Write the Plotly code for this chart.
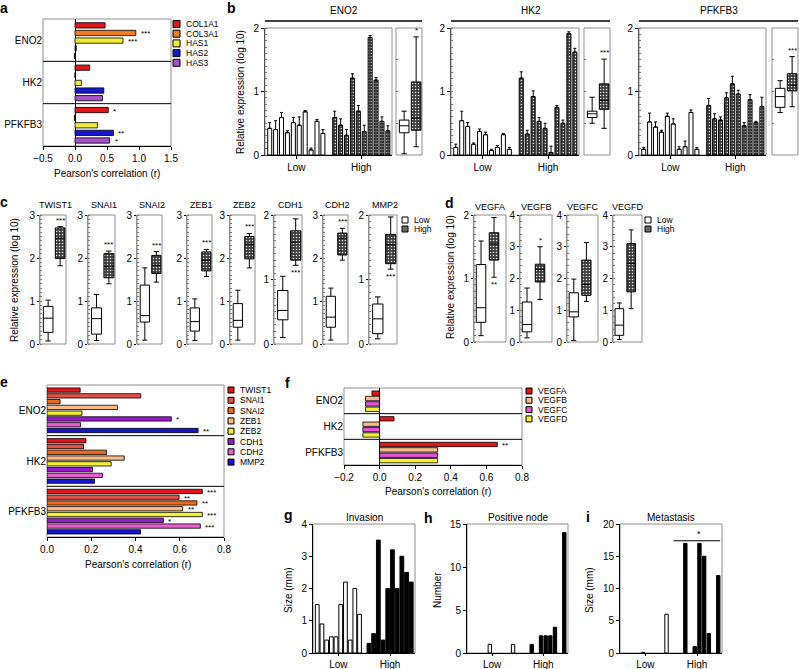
import numpy as np
import plotly.graph_objects as go

W, H = 799, 669
FONT = "Liberation Sans"
GRAY = "#8f8f8f"

# ---------------- panel a data ----------------
a_groups = ["ENO2", "HK2", "PFKFB3"]
a_series = ["COL1A1", "COL3A1", "HAS1", "HAS2", "HAS3"]
a_colors = ["#e3151c", "#ef7d1f", "#f3ec35", "#1717cf", "#a551c8"]
a_COL1A1 = [0.47, 0.23, 0.52]
a_COL3A1 = [0.95, 0.00, -0.01]
a_HAS1 = [0.75, 0.10, 0.35]
a_HAS2 = [0.02, 0.45, 0.60]
a_HAS3 = [-0.01, 0.43, 0.54]
a_sig_COL1A1 = ["", "", "*"]
a_sig_COL3A1 = ["***", "", ""]
a_sig_HAS1 = ["***", "", ""]
a_sig_HAS2 = ["", "", "**"]
a_sig_HAS3 = ["", "", "*"]

# ---------------- panel b data ----------------
b_genes = ["ENO2", "HK2", "PFKFB3"]
b_ENO2_low = [0.42, 0.40, 0.59, 0.35, 0.51, 0.47, 0.68, 0.08, 0.53, 0.34]
b_ENO2_low_err = [0.09, 0.14, 0.08, 0.03, 0.08, 0.13, 0.02, 0.03, 0.03, 0.06]
b_ENO2_high = [0.59, 0.47, 0.31, 1.21, 0.69, 0.37, 1.85, 1.18, 0.53, 0.38]
b_ENO2_high_err = [0.10, 0.10, 0.09, 0.07, 0.09, 0.10, 0.03, 0.04, 0.07, 0.08]
b_HK2_low = [0.12, 0.54, 0.45, 0.17, 0.37, 0.32, 0.07, 0.12, 0.32, 0.09]
b_HK2_low_err = [0.05, 0.15, 0.06, 0.02, 0.04, 0.04, 0.02, 0.03, 0.02, 0.03]
b_HK2_high = [1.21, 0.33, 0.92, 0.53, 0.42, 0.04, 0.75, 0.50, 1.91, 1.62]
b_HK2_high_err = [0.10, 0.06, 0.09, 0.06, 0.08, 0.10, 0.03, 0.05, 0.03, 0.06]
b_PFKFB3_low = [0.09, 0.52, 0.44, 0.36, 0.61, 0.49, 0.09, 0.13, 0.67, 0.09]
b_PFKFB3_low_err = [0.03, 0.14, 0.08, 0.03, 0.05, 0.08, 0.04, 0.09, 0.04, 0.03]
b_PFKFB3_high = [0.78, 0.57, 0.55, 0.90, 1.12, 0.96, 0.46, 0.87, 0.51, 0.76]
b_PFKFB3_high_err = [0.11, 0.08, 0.05, 0.08, 0.12, 0.06, 0.05, 0.08, 0.02, 0.15]
# box summaries: min, q1, median, q3, max
b_ENO2_box_low = [0.02, 0.35, 0.46, 0.55, 0.69]
b_ENO2_box_high = [0.13, 0.39, 0.58, 1.15, 1.86]
b_HK2_box_low = [0.50, 0.59, 0.65, 0.69, 0.91]
b_HK2_box_high = [0.42, 0.72, 0.86, 1.12, 1.51]
b_PFKFB3_box_low = [0.67, 0.75, 0.92, 1.05, 1.17]
b_PFKFB3_box_high = [0.76, 1.01, 1.10, 1.28, 1.55]
b_sig = ["*", "***", "***"]

# ---------------- panel c data ----------------
c_genes = ["TWIST1", "SNAI1", "SNAI2", "ZEB1", "ZEB2", "CDH1", "CDH2", "MMP2"]
c_ymax = [3, 3, 3, 3, 3, 2, 3, 2]
c_low_min = [0.07, 0.08, 0.09, 0.08, 0.09, 0.10, 0.09, 0.08]
c_low_q1 = [0.27, 0.23, 0.51, 0.30, 0.39, 0.375, 0.39, 0.16]
c_low_med = [0.60, 0.59, 0.66, 0.52, 0.55, 0.52, 0.625, 0.39]
c_low_q3 = [0.875, 0.84, 1.37, 0.84, 0.94, 0.83, 1.11, 0.62]
c_low_max = [1.02, 1.15, 1.77, 1.05, 1.25, 1.05, 1.30, 0.73]
c_high_min = [1.82, 1.40, 1.44, 1.57, 1.77, 1.22, 1.95, 1.16]
c_high_q1 = [1.99, 1.54, 1.64, 1.70, 1.98, 1.30, 2.07, 1.245]
c_high_med = [2.46, 1.80, 1.83, 1.95, 2.32, 1.58, 2.46, 1.54]
c_high_q3 = [2.70, 2.10, 2.06, 2.14, 2.50, 1.755, 2.58, 1.70]
c_high_max = [2.73, 2.16, 2.15, 2.20, 2.57, 1.94, 2.69, 1.97]
c_sig = ["***"] * 8
c_sig_above = [True, True, True, True, True, False, True, False]

# ---------------- panel d data ----------------
d_genes = ["VEGFA", "VEGFB", "VEGFC", "VEGFD"]
d_ymax = [2, 4, 4, 4]
d_low_min = [0.10, 0.13, 0.05, 0.08]
d_low_q1 = [0.31, 0.32, 0.79, 0.21]
d_low_med = [0.54, 0.55, 0.95, 0.53]
d_low_q3 = [1.22, 1.26, 1.55, 1.05]
d_low_max = [1.59, 1.70, 1.98, 1.23]
d_high_min = [1.02, 1.34, 1.28, 1.05]
d_high_q1 = [1.29, 1.89, 1.47, 1.58]
d_high_med = [1.545, 2.29, 1.81, 2.47]
d_high_q3 = [1.72, 2.45, 2.58, 3.10]
d_high_max = [1.96, 3.00, 3.13, 3.53]
d_sig = ["**", "*", "", ""]
d_sig_above = [False, True, True, True]

# ---------------- panel e data ----------------
e_groups = ["ENO2", "HK2", "PFKFB3"]
e_series = ["TWIST1", "SNAI1", "SNAI2", "ZEB1", "ZEB2", "CDH1", "CDH2", "MMP2"]
e_colors = ["#e3151c", "#e55048", "#ec6a1c", "#f7bb8b", "#f3ef33", "#9a19cf", "#ea5fcf", "#1616cf"]
e_TWIST1 = [0.150, 0.176, 0.702]
e_SNAI1 = [0.424, 0.165, 0.597]
e_SNAI2 = [0.059, 0.269, 0.678]
e_ZEB1 = [0.319, 0.349, 0.613]
e_ZEB2 = [0.158, 0.290, 0.702]
e_CDH1 = [0.562, 0.206, 0.526]
e_CDH2 = [0.152, 0.250, 0.693]
e_MMP2 = [0.683, 0.215, 0.423]
e_sig_TWIST1 = ["", "", "***"]
e_sig_SNAI1 = ["", "", "**"]
e_sig_SNAI2 = ["", "", "**"]
e_sig_ZEB1 = ["", "", "**"]
e_sig_ZEB2 = ["", "", "***"]
e_sig_CDH1 = ["*", "", "*"]
e_sig_CDH2 = ["", "", "***"]
e_sig_MMP2 = ["**", "", ""]

# ---------------- panel f data ----------------
f_groups = ["ENO2", "HK2", "PFKFB3"]
f_series = ["VEGFA", "VEGFB", "VEGFC", "VEGFD"]
f_colors = ["#e3151c", "#f7bb8b", "#e651d6", "#f3ef33"]
f_VEGFA = [-0.043, 0.081, 0.661]
f_VEGFB = [-0.079, -0.094, 0.326]
f_VEGFC = [-0.079, -0.094, 0.326]
f_VEGFD = [-0.079, -0.094, 0.326]
f_sig_VEGFA = ["", "", "**"]
f_sig_other = ["", "", ""]

# ---------------- panels g, h, i data ----------------
g_low = [1.5, 0.9, 0.4, 0.5, 0.5, 1.5, 2.2, 0.4, 2.0, 1.2]
g_high = [0.3, 0.6, 3.5, 0.4, 2.0, 3.2, 2.0, 3.0, 2.5, 2.2]
h_low = [0, 0, 0, 0, 1, 0, 0, 0, 0, 1]
h_high = [0, 0, 1, 0, 2, 2, 2, 3, 0, 14]
i_low = [0, 0, 0, 0, 0.1, 0, 0, 0, 0, 6]
i_high = [0, 0, 17, 0, 1, 17, 15, 3, 0, 12]
group_labels = ["Low", "High"]

# ================= figure machinery =================
fig = go.Figure()
layout = dict(width=W, height=H, margin=dict(l=0, r=0, t=0, b=0),
              paper_bgcolor="white", plot_bgcolor="rgba(0,0,0,0)",
              showlegend=False, barmode="overlay", boxmode="overlay",
              font=dict(family=FONT, size=10, color="black"))
shapes, annotations = [], []
_n = [0]

HATCH = dict(color="#3c3c3c", line=dict(color="black", width=1),
             pattern=dict(shape=".", fillmode="replace", bgcolor="#3c3c3c",
                          fgcolor="#e8e8e8", size=3, solidity=0.22))


def new_axes(x0, x1, y0, y1, xopt=None, yopt=None, frame=True):
    _n[0] += 1
    n = _n[0]
    s = "" if n == 1 else str(n)
    base = dict(showgrid=False, zeroline=False, automargin=False, showline=True,
                linecolor="black", linewidth=1, ticks="outside", ticklen=3,
                tickwidth=1, tickcolor="black", fixedrange=True,
                tickfont=dict(size=10, family=FONT, color="black"))
    xa = dict(base, domain=[x0 / W, x1 / W], anchor="y" + s)
    xa.update(xopt or {})
    ya = dict(base, domain=[1 - y1 / H, 1 - y0 / H], anchor="x" + s)
    ya.update(yopt or {})
    layout["xaxis" + s] = xa
    layout["yaxis" + s] = ya
    if frame:
        shapes.append(dict(type="rect", xref="x" + s + " domain", yref="y" + s + " domain",
                           x0=0, x1=1, y0=0, y1=1, layer="below",
                           line=dict(color=GRAY, width=1)))
    return "x" + s, "y" + s


def text(x, y, s, size=10, xanchor="center", yanchor="middle", angle=0):
    annotations.append(dict(xref="paper", yref="paper", x=x / W, y=1 - y / H, text=s,
                            showarrow=False, textangle=angle, xanchor=xanchor,
                            yanchor=yanchor, font=dict(size=size, family=FONT, color="black")))


def legend(x, y0, step, names, fills, size=6, fsize=8.5):
    for k, (nm, fc) in enumerate(zip(names, fills)):
        yc = y0 + k * step
        shapes.append(dict(type="rect", xref="paper", yref="paper",
                           x0=x / W, x1=(x + size) / W,
                           y0=1 - (yc + size / 2) / H, y1=1 - (yc - size / 2) / H,
                           fillcolor=fc, line=dict(color="black", width=1)))
        text(x + size + 4, yc, nm, size=fsize, xanchor="left")


def hbar_panel(xa, ya, groups, series, values, colors, sigs, c0, pitch, width):
    pos = np.arange(len(groups))
    for k, (vals, col, sg) in enumerate(zip(values, colors, sigs)):
        c = c0 + k * pitch
        fig.add_trace(go.Bar(x=vals, y=pos, orientation="h", width=width,
                             offset=c - width / 2, xaxis=xa, yaxis=ya,
                             marker=dict(color=col, line=dict(color="black", width=0.8)),
                             name=series[k], hoverinfo="skip"))
        for g, (v, s) in enumerate(zip(vals, sg)):
            if s:
                annotations.append(dict(xref=xa, yref=ya, x=max(v, 0), y=g + c, text=s,
                                        xanchor="left", yanchor="middle", xshift=3, yshift=-1,
                                        showarrow=False, font=dict(size=8, family=FONT)))
    for g in range(len(groups) - 1):
        shapes.append(dict(type="line", xref=xa + " domain", yref=ya, x0=0, x1=1,
                           y0=g + 0.5, y1=g + 0.5, line=dict(color="black", width=1)))


def nz(vals):
    return [v if v else None for v in vals]


def vbars(xa, ya, low, high, width, low_err=None, high_err=None, hatch=False):
    xl = np.arange(len(low))
    xh = np.arange(len(high)) + len(low) + 1
    ek = dict(type="data", symmetric=False, thickness=1, width=1.5, color="black")
    fig.add_trace(go.Bar(x=xl, y=nz(low), width=width, xaxis=xa, yaxis=ya, hoverinfo="skip",
                         marker=dict(color="white", line=dict(color="black", width=1)),
                         error_y=(dict(ek, array=low_err, arrayminus=[0] * len(low))
                                  if low_err else None)))
    mk = HATCH if hatch else dict(color="black", line=dict(color="black", width=1))
    fig.add_trace(go.Bar(x=xh, y=nz(high), width=width, xaxis=xa, yaxis=ya, hoverinfo="skip",
                         marker=mk,
                         error_y=(dict(ek, array=high_err, arrayminus=[0] * len(high))
                                  if high_err else None)))
    return [(len(low) - 1) / 2, len(low) + 1 + (len(high) - 1) / 2]


def box_pair(xa, ya, lo, hi, width, sig, above):
    fig.add_trace(go.Bar(x=[1], y=[hi[3] - hi[1]], base=[hi[1]], width=width,
                         marker=dict(HATCH, line=dict(width=0)), xaxis=xa, yaxis=ya,
                         hoverinfo="skip"))
    for p, st, fill in [(0, lo, "white"), (1, hi, "rgba(0,0,0,0)")]:
        fig.add_trace(go.Box(x=[p], lowerfence=[st[0]], q1=[st[1]], median=[st[2]],
                             q3=[st[3]], upperfence=[st[4]], width=width, orientation="v",
                             fillcolor=fill, line=dict(color="black", width=1),
                             whiskerwidth=0.55, boxpoints=False, xaxis=xa, yaxis=ya,
                             hoverinfo="skip"))
    if sig:
        annotations.append(dict(xref=xa, yref=ya, x=1, y=hi[4] if above else hi[0], text=sig,
                                xanchor="center", yanchor="bottom" if above else "top",
                                yshift=0 if above else -1, showarrow=False,
                                font=dict(size=8, family=FONT)))


# ================= panel a =================
xa, ya = new_axes(43, 171, 19, 146,
                  dict(range=[-0.5, 1.5], tick0=-0.5, dtick=0.5, tickformat=".1f",
                       zeroline=True, zerolinecolor="black", zerolinewidth=1),
                  dict(range=[len(a_groups) - 0.5, -0.5], tickvals=list(range(len(a_groups))),
                       ticktext=a_groups, ticks="", showline=False))
hbar_panel(xa, ya, a_groups, a_series, [a_COL1A1, a_COL3A1, a_HAS1, a_HAS2, a_HAS3],
           a_colors, [a_sig_COL1A1, a_sig_COL3A1, a_sig_HAS1, a_sig_HAS2, a_sig_HAS3],
           -0.35, 0.18, 0.125)
text(107, 174, "Pearson's correlation (r)")
legend(173, 24, 9.7, a_series, a_colors, size=7)

# ================= panel b =================
b_low = [b_ENO2_low, b_HK2_low, b_PFKFB3_low]
b_low_err = [b_ENO2_low_err, b_HK2_low_err, b_PFKFB3_low_err]
b_high = [b_ENO2_high, b_HK2_high, b_PFKFB3_high]
b_high_err = [b_ENO2_high_err, b_HK2_high_err, b_PFKFB3_high_err]
b_box_low = [b_ENO2_box_low, b_HK2_box_low, b_PFKFB3_box_low]
b_box_high = [b_ENO2_box_high, b_HK2_box_high, b_PFKFB3_box_high]
b_bar_px = [(265, 392), (451, 579), (639, 766)]
b_box_px = [(396, 422), (584, 610), (772, 798)]
for gi, gene in enumerate(b_genes):
    bx0, bx1 = b_bar_px[gi]
    xa, ya = new_axes(bx0, bx1, 28, 155,
                      dict(range=[-0.8, 20.7], ticklen=3),
                      dict(range=[0, 2], dtick=1, linecolor="#555555",
                           minor=dict(ticks="inside", ticklen=2, dtick=0.1, tickcolor="#777777")))
    tv = vbars(xa, ya, b_low[gi], b_high[gi], 0.68, b_low_err[gi], b_high_err[gi], hatch=True)
    layout["xaxis" + xa[1:]].update(tickvals=tv, ticktext=group_labels)
    px0, px1 = b_box_px[gi]
    xa, ya = new_axes(px0, px1, 28, 155,
                      dict(range=[-0.68, 1.49], showline=False, ticks="", showticklabels=False),
                      dict(range=[0, 2], showline=False, showticklabels=False, ticks="inside",
                           ticklen=2, dtick=0.5, tickcolor="#777777"))
    box_pair(xa, ya, b_box_low[gi], b_box_high[gi], 0.8, b_sig[gi], True)
    shapes.append(dict(type="line", xref="paper", yref="paper", x0=bx0 / W, x1=px1 / W,
                       y0=1 - 21 / H, y1=1 - 21 / H, line=dict(color="black", width=1.5)))
    text((bx0 + px1) / 2, 11, gene)
text(240, 92, "Relative expression (log 10)", angle=-90)

# ================= panel c =================
c_px = [(40, 66), (88, 115), (137, 162), (187, 212), (230, 255), (274, 302), (323, 348), (369, 397)]
for gi, gene in enumerate(c_genes):
    x0, x1 = c_px[gi]
    xa, ya = new_axes(x0, x1, 215, 344,
                      dict(range=[-0.68, 1.49], showline=False, ticks="", showticklabels=False),
                      dict(range=[0, c_ymax[gi]], dtick=1, linecolor=GRAY, ticklen=2,
                           minor=dict(ticks="inside", ticklen=2, dtick=0.1, tickcolor="#777777")))
    lo = [c_low_min[gi], c_low_q1[gi], c_low_med[gi], c_low_q3[gi], c_low_max[gi]]
    hi = [c_high_min[gi], c_high_q1[gi], c_high_med[gi], c_high_q3[gi], c_high_max[gi]]
    box_pair(xa, ya, lo, hi, 0.8, c_sig[gi], c_sig_above[gi])
    text((x0 + x1) / 2 + 2, 205, gene, size=9)
text(15, 280, "Relative expression (log 10)", angle=-90)
legend(402, 220, 9, group_labels, ["white", "#6a6a6a"], size=6)

# ================= panel d =================
d_px = [(474, 506), (520, 552), (567, 598), (613, 642)]
for gi, gene in enumerate(d_genes):
    x0, x1 = d_px[gi]
    xa, ya = new_axes(x0, x1, 215, 342,
                      dict(range=[-0.54, 1.92], showline=False, ticks="", showticklabels=False),
                      dict(range=[0, d_ymax[gi]], dtick=1, linecolor=GRAY, ticklen=2,
                           minor=dict(ticks="inside", ticklen=2, dtick=d_ymax[gi] / 20,
                                      tickcolor="#777777")))
    lo = [d_low_min[gi], d_low_q1[gi], d_low_med[gi], d_low_q3[gi], d_low_max[gi]]
    hi = [d_high_min[gi], d_high_q1[gi], d_high_med[gi], d_high_q3[gi], d_high_max[gi]]
    box_pair(xa, ya, lo, hi, 0.73, d_sig[gi], d_sig_above[gi])
    text((x0 + x1) / 2, 207, gene, size=9)
text(451, 277, "Relative expression (log 10)", angle=-90)
legend(645, 220, 9, group_labels, ["white", "#6a6a6a"], size=6)

# ================= panel e =================
xa, ya = new_axes(47, 224, 385, 537,
                  dict(range=[0, 0.8], dtick=0.2, tickformat=".1f"),
                  dict(range=[len(e_groups) - 0.5, -0.5], tickvals=list(range(len(e_groups))),
                       ticktext=e_groups, ticks="", showline=False))
hbar_panel(xa, ya, e_groups, e_series,
           [e_TWIST1, e_SNAI1, e_SNAI2, e_ZEB1, e_ZEB2, e_CDH1, e_CDH2, e_MMP2], e_colors,
           [e_sig_TWIST1, e_sig_SNAI1, e_sig_SNAI2, e_sig_ZEB1, e_sig_ZEB2, e_sig_CDH1,
            e_sig_CDH2, e_sig_MMP2], -0.4, 0.114, 0.085)
text(138, 564, "Pearson's correlation (r)")
legend(228, 390, 10.3, e_series, e_colors, size=6)

# ================= panel f =================
xa, ya = new_axes(344, 522, 388, 465,
                  dict(range=[-0.2, 0.8], dtick=0.2, tickformat=".1f",
                       zeroline=True, zerolinecolor="black", zerolinewidth=1),
                  dict(range=[len(f_groups) - 0.5, -0.5], tickvals=list(range(len(f_groups))),
                       ticktext=f_groups, ticks="", showline=False))
hbar_panel(xa, ya, f_groups, f_series, [f_VEGFA, f_VEGFB, f_VEGFC, f_VEGFD], f_colors,
           [f_sig_VEGFA, f_sig_other, f_sig_other, f_sig_other], -0.3, 0.21, 0.17)
text(438, 491, "Pearson's correlation (r)")
legend(526, 391, 9.3, f_series, f_colors, size=6)

# ================= panels g, h, i =================
ghi = [("Invasion", g_low, g_high, (313, 415), 4, 1, "Size (mm)", 288),
       ("Positive node", h_low, h_high, (467, 568), 15, 5, "Number", 437),
       ("Metastasis", i_low, i_high, (620, 722), 20, 5, "Size (mm)", 589)]
for title, lo, hi, (x0, x1), ymax, dt, ytitle, ytx in ghi:
    xa, ya = new_axes(x0, x1, 524, 653, dict(range=[-0.9, 20.8], ticklen=2),
                      dict(range=[0, ymax], dtick=dt))
    width = 0.8 if title == "Invasion" else 0.72
    tv = vbars(xa, ya, lo, hi, width)
    layout["xaxis" + xa[1:]].update(tickvals=tv, ticktext=group_labels)
    text((x0 + x1) / 2, 517, title)
    text(ytx, 590, ytitle, angle=-90)
    if title == "Metastasis":
        shapes.append(dict(type="line", xref=xa, yref=ya, x0=10.5, x1=20.4, y0=17.4, y1=17.4,
                           line=dict(color="black", width=1)))
        annotations.append(dict(xref=xa, yref=ya, x=15.8, y=17.4, text="*", showarrow=False,
                                yanchor="bottom", font=dict(size=9, family=FONT)))

# ================= panel letters =================
for letter, lx, ly in [("a", 4, 8), ("b", 232, 8), ("c", 4, 202), ("d", 449, 203),
                       ("e", 4, 382), ("f", 287, 383), ("g", 288, 515), ("h", 428, 518),
                       ("i", 588, 517)]:
    text(lx, ly, "<b>%s</b>" % letter, size=14)

layout["shapes"] = shapes
layout["annotations"] = annotations
fig.update_layout(**layout)
fig.write_html("out.html", config={"displayModeBar": False, "staticPlot": True},
               post_script="document.body.style.margin='0px';"
                           "document.body.style.overflow='hidden';")
